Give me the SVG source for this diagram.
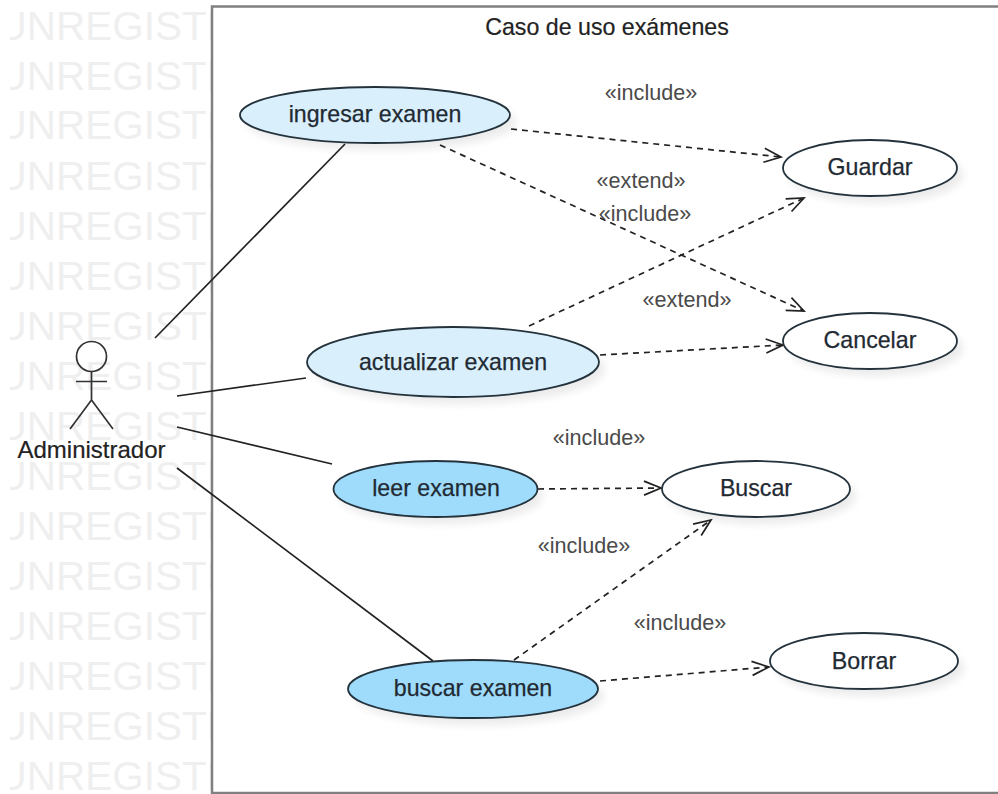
<svg xmlns="http://www.w3.org/2000/svg" width="998" height="794" viewBox="0 0 998 794">
<style>
text{font-family:"Liberation Sans",Arial,sans-serif;fill:#222}
.wm{font-size:40.500px;fill:#efefef}
.uc{stroke:#24323c;stroke-width:1.800}
.lbl{font-size:23.200px;text-anchor:middle;fill:#1f2a33;stroke:#1f2a33;stroke-width:.25}
.st{font-size:21.600px;text-anchor:middle;fill:#4a4a4a}
.a{fill:none;stroke:#222;stroke-width:1.700}
.d{stroke-dasharray:6 5}
.s{fill:#000;opacity:.08;filter:url(#b)}
</style>
<defs>
<clipPath id="c"><rect x="10" y="0" width="201" height="794"/></clipPath>
<filter id="b" x="-20%" y="-40%" width="140%" height="180%"><feGaussianBlur stdDeviation="4"/></filter>
<marker id="o" markerWidth="24" markerHeight="18" refX="19" refY="8" orient="auto" markerUnits="userSpaceOnUse"><path d="M2 1L19 8L2 15" fill="none" stroke="#222" stroke-width="1.700"/></marker>
</defs>
<rect width="998" height="794" fill="#fff"/>
<g id="watermark" clip-path="url(#c)">
<text class="wm" x="-2.500" y="40">UNREGISTERED</text>
<text class="wm" x="-2.500" y="90">UNREGISTERED</text>
<text class="wm" x="-2.500" y="139">UNREGISTERED</text>
<text class="wm" x="-2.500" y="190">UNREGISTERED</text>
<text class="wm" x="-2.500" y="240">UNREGISTERED</text>
<text class="wm" x="-2.500" y="290">UNREGISTERED</text>
<text class="wm" x="-2.500" y="340">UNREGISTERED</text>
<text class="wm" x="-2.500" y="390">UNREGISTERED</text>
<text class="wm" x="-2.500" y="440">UNREGISTERED</text>
<text class="wm" x="-2.500" y="490">UNREGISTERED</text>
<text class="wm" x="-2.500" y="540">UNREGISTERED</text>
<text class="wm" x="-2.500" y="590">UNREGISTERED</text>
<text class="wm" x="-2.500" y="640">UNREGISTERED</text>
<text class="wm" x="-2.500" y="690">UNREGISTERED</text>
<text class="wm" x="-2.500" y="740">UNREGISTERED</text>
<text class="wm" x="-2.500" y="790">UNREGISTERED</text>
</g>
<g id="frame">
<path d="M998 6.500H212V793H998" fill="none" stroke="#808080" stroke-width="2.500"/>
<text x="607" y="35" style="font-size:23.200px;stroke:#222;stroke-width:.2" text-anchor="middle">Caso de uso exámenes</text>
</g>
<g id="connectors">
<path class="a" d="M155 338L345 144"/>
<path class="a" d="M177 396L306 378"/>
<path class="a" d="M177 427L332 464"/>
<path class="a" d="M177 468L433 661"/>
<path class="a d" d="M511 129L781 157" marker-end="url(#o)"/>
<path class="a d" d="M440 145L804 311" marker-end="url(#o)"/>
<path class="a d" d="M529 326L804 198" marker-end="url(#o)"/>
<path class="a d" d="M600 355L783 345" marker-end="url(#o)"/>
<path class="a d" d="M538 489L661 488" marker-end="url(#o)"/>
<path class="a d" d="M514 660L711 520" marker-end="url(#o)"/>
<path class="a d" d="M600 681L769 667" marker-end="url(#o)"/>
</g>
<g id="labels">
<text class="st" x="651" y="100">«include»</text>
<text class="st" x="641" y="188">«extend»</text>
<text class="st" x="645" y="221">«include»</text>
<text class="st" x="687" y="307">«extend»</text>
<text class="st" x="599" y="445">«include»</text>
<text class="st" x="584" y="553">«include»</text>
<text class="st" x="680" y="630">«include»</text>
</g>
<g id="actor-administrador">
<circle cx="91.500" cy="356.500" r="15" fill="none" stroke="#333" stroke-width="1.700"/>
<path d="M91.500 371.500V400M76 381.500H107M91.500 400L70 429M91.500 400L113 429" fill="none" stroke="#333" stroke-width="1.700"/>
<text x="91.500" y="458" style="font-size:24px;stroke:#222;stroke-width:.2" text-anchor="middle">Administrador</text>
</g>
<g id="uc-ingresar">
<ellipse class="s" cx="381" cy="122" rx="135" ry="28"/>
<ellipse class="uc" cx="375" cy="115" rx="135" ry="28" fill="#d9f0fc"/>
<text class="lbl" x="375" y="122">ingresar examen</text>
</g>
<g id="uc-actualizar">
<ellipse class="s" cx="459" cy="369" rx="146" ry="35"/>
<ellipse class="uc" cx="453" cy="362" rx="146" ry="35" fill="#d9f0fc"/>
<text class="lbl" x="453" y="370">actualizar examen</text>
</g>
<g id="uc-leer">
<ellipse class="s" cx="441" cy="496" rx="102" ry="28"/>
<ellipse class="uc" cx="435.500" cy="489" rx="102" ry="28" fill="#9fdcfc"/>
<text class="lbl" x="436" y="496">leer examen</text>
</g>
<g id="uc-buscar-examen">
<ellipse class="s" cx="479" cy="696" rx="125" ry="29"/>
<ellipse class="uc" cx="473" cy="689" rx="125" ry="29" fill="#9fdcfc"/>
<text class="lbl" x="473" y="696">buscar examen</text>
</g>
<g id="uc-guardar">
<ellipse class="s" cx="876" cy="175" rx="87" ry="28"/>
<ellipse class="uc" cx="870" cy="168" rx="87" ry="28" fill="#fff"/>
<text class="lbl" x="870" y="175">Guardar</text>
</g>
<g id="uc-cancelar">
<ellipse class="s" cx="876" cy="348" rx="87" ry="28"/>
<ellipse class="uc" cx="870" cy="341" rx="87" ry="28" fill="#fff"/>
<text class="lbl" x="870" y="348">Cancelar</text>
</g>
<g id="uc-buscar">
<ellipse class="s" cx="762" cy="496" rx="94" ry="28"/>
<ellipse class="uc" cx="756" cy="489" rx="94" ry="28" fill="#fff"/>
<text class="lbl" x="756" y="496">Buscar</text>
</g>
<g id="uc-borrar">
<ellipse class="s" cx="870" cy="668" rx="94" ry="28"/>
<ellipse class="uc" cx="864" cy="661" rx="94" ry="28" fill="#fff"/>
<text class="lbl" x="864" y="669">Borrar</text>
</g>
</svg>
